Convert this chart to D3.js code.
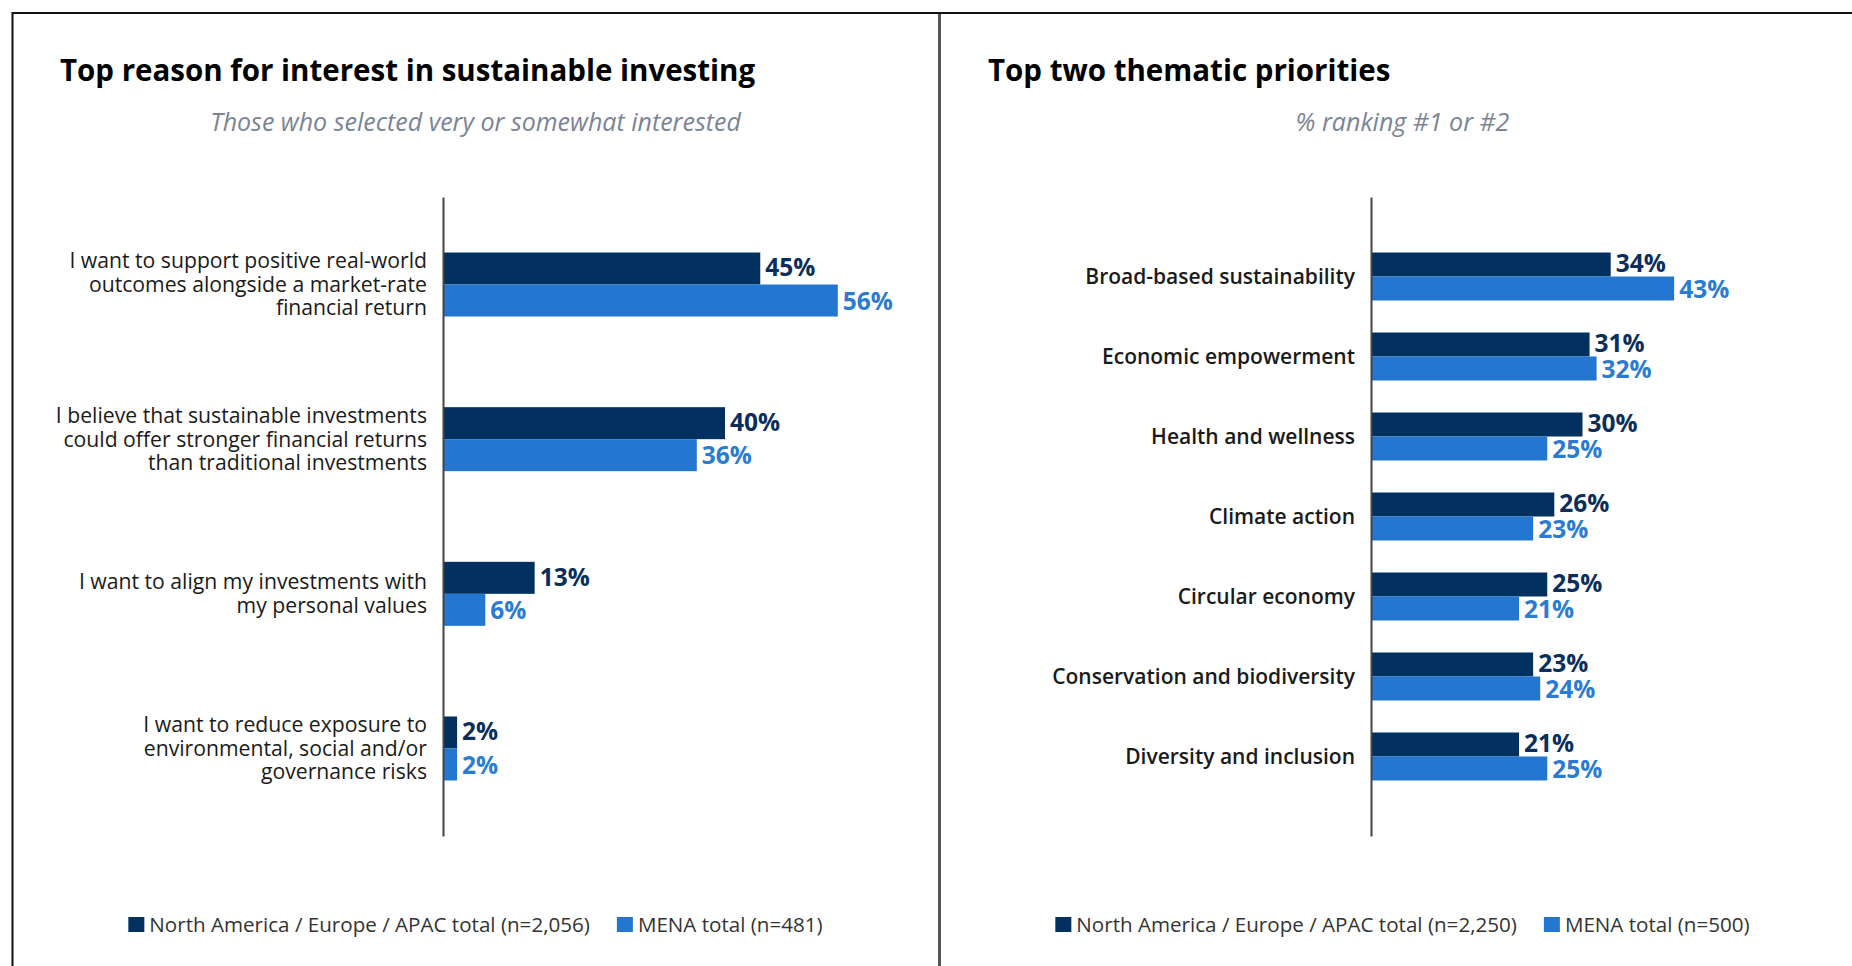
<!DOCTYPE html>
<html>
<head>
<meta charset="utf-8">
<script src="https://cdn.jsdelivr.net/npm/d3@7"></script>
<style>
  html, body { margin: 0; padding: 0; background: #fff; overflow: hidden; }
  svg { display: block; font-family: "Open Sans", "Noto Sans", sans-serif; }
</style>
</head>
<body>
<div id="chart"></div>
<script>
// ---- data ----
const reasonLabels = [
  ["I want to support positive real-world", "outcomes alongside a market-rate", "financial return"],
  ["I believe that sustainable investments", "could offer stronger financial returns", "than traditional investments"],
  ["I want to align my investments with", "my personal values"],
  ["I want to reduce exposure to", "environmental, social and/or", "governance risks"]
];
const reasonNA = [45, 40, 13, 2];
const reasonMENA = [56, 36, 6, 2];
const reasonLegend = ["North America / Europe / APAC total (n=2,056)", "MENA total (n=481)"];

const themeLabels = [
  "Broad-based sustainability",
  "Economic empowerment",
  "Health and wellness",
  "Climate action",
  "Circular economy",
  "Conservation and biodiversity",
  "Diversity and inclusion"
];
const themeNA = [34, 31, 30, 26, 25, 23, 21];
const themeMENA = [43, 32, 25, 23, 21, 24, 25];
const themeLegend = ["North America / Europe / APAC total (n=2,250)", "MENA total (n=500)"];

const colors = ["#02305f", "#2477d1"];
const labelColors = ["#0a2e5c", "#2a7bd3"];

const width = 1852, height = 966;
const panelW = 927;

const svg = d3.select("#chart").append("svg")
  .attr("width", width)
  .attr("height", height);

// frame lines
svg.append("line").attr("x1", 12).attr("x2", width).attr("y1", 13).attr("y2", 13)
  .attr("stroke", "#111").attr("stroke-width", 2);
svg.append("line").attr("x1", 12.5).attr("x2", 12.5).attr("y1", 12).attr("y2", height)
  .attr("stroke", "#111").attr("stroke-width", 2);
svg.append("line").attr("x1", 939.5).attr("x2", 939.5).attr("y1", 14).attr("y2", height)
  .attr("stroke", "#555").attr("stroke-width", 3);

function drawPanel(opt) {
  const g = svg.append("g").attr("transform", "translate(" + opt.left + ",0)");
  const cx = panelW / 2;

  g.append("text")
    .attr("x", opt.titleX)
    .attr("y", 81)
    .style("font-size", "29.5px")
    .style("font-weight", "700")
    .attr("fill", "#000")
    .text(opt.title);

  g.append("text")
    .attr("x", cx)
    .attr("y", 131)
    .attr("text-anchor", "middle")
    .style("font-size", "25px")
    .style("font-style", "italic")
    .attr("fill", "#7b8394")
    .text(opt.subtitle);

  const keys = d3.range(opt.na.length);
  const y = d3.scaleBand()
    .domain(keys)
    .range([197, 836])
    .paddingInner(opt.padInner)
    .paddingOuter(opt.padOuter);

  const ySub = d3.scaleBand().domain([0, 1]).range([0, y.bandwidth()]);

  const x = d3.scaleLinear().domain([0, 60]).range([opt.axisX, opt.axisX + 60 * 7.05]);

  const rows = keys.map(i => ({ i: i, vals: [opt.na[i], opt.mena[i]] }));

  const groups = g.selectAll(".grp")
    .data(rows)
    .enter().append("g")
    .attr("class", "grp")
    .attr("transform", d => "translate(0," + y(d.i) + ")");

  groups.selectAll("rect")
    .data(d => d.vals.map((v, s) => ({ v: v, s: s })))
    .enter().append("rect")
    .attr("x", x(0))
    .attr("y", d => ySub(d.s))
    .attr("width", d => x(d.v) - x(0))
    .attr("height", ySub.bandwidth())
    .attr("fill", d => colors[d.s]);

  groups.selectAll(".val")
    .data(d => d.vals.map((v, s) => ({ v: v, s: s })))
    .enter().append("text")
    .attr("class", "val")
    .attr("x", d => x(d.v) + 5)
    .attr("y", d => ySub(d.s) + ySub.bandwidth() / 2 + (d.s === 0 ? -1 : 0.5))
    .attr("dy", "0.36em")
    .style("font-size", "24.5px")
    .style("font-weight", "700")
    .attr("fill", d => labelColors[d.s])
    .text(d => d.v + "%");

  // axis line
  g.append("g")
    .attr("transform", "translate(" + opt.axisX + ",0)")
    .call(d3.axisLeft(y).tickSize(0).tickFormat(""))
    .call(a => a.select(".domain").attr("stroke", "#444").attr("stroke-width", 2));

  // category labels
  const lineH = 23.5;
  const cats = g.selectAll(".cat")
    .data(rows)
    .enter().append("text")
    .attr("class", "cat")
    .attr("text-anchor", "end")
    .style("font-size", opt.catSize)
    .style("font-weight", opt.catWeight)
    .attr("fill", "#1a1a1a");

  cats.each(function (d) {
    const lines = [].concat(opt.labels[d.i]);
    const mid = y(d.i) + y.bandwidth() / 2;
    const top = mid - (lines.length - 1) * lineH / 2;
    d3.select(this).selectAll("tspan")
      .data(lines)
      .enter().append("tspan")
      .attr("x", opt.axisX - 16)
      .attr("y", (l, k) => top + k * lineH)
      .attr("dy", "0.35em")
      .text(l => l);
  });

  // legend (centred in the panel)
  const leg = g.append("g").attr("transform", "translate(0,917)");
  const items = leg.selectAll(".li")
    .data(opt.legend)
    .enter().append("g")
    .attr("class", "li");
  items.append("rect")
    .attr("width", 16).attr("height", 15)
    .attr("fill", (d, i) => colors[i]);
  items.append("text")
    .attr("x", 21)
    .attr("y", 7.5)
    .attr("dy", "0.35em")
    .style("font-size", "20.6px")
    .attr("fill", "#333")
    .text(d => d);
  let offs = [];
  let total = 0;
  items.each(function (d, i) {
    const w = 21 + this.querySelector("text").getComputedTextLength();
    offs.push(total);
    total += w + (i < opt.legend.length - 1 ? 27 : 0);
  });
  const start = cx - total / 2;
  items.attr("transform", (d, i) => "translate(" + (start + offs[i]) + ",0)");
}

drawPanel({
  left: 12,
  titleX: 48,
  title: "Top reason for interest in sustainable investing",
  subtitle: "Those who selected very or somewhat interested",
  na: reasonNA, mena: reasonMENA, labels: reasonLabels, legend: reasonLegend,
  axisX: 431, padInner: 0.5862, padOuter: 0.359,
  catSize: "21.2px", catWeight: "400"
});

drawPanel({
  left: 939,
  titleX: 49,
  title: "Top two thematic priorities",
  subtitle: "% ranking #1 or #2",
  na: themeNA, mena: themeMENA, labels: themeLabels, legend: themeLegend,
  axisX: 432, padInner: 0.4, padOuter: 0.694,
  catSize: "21px", catWeight: "600"
});
</script>
</body>
</html>
